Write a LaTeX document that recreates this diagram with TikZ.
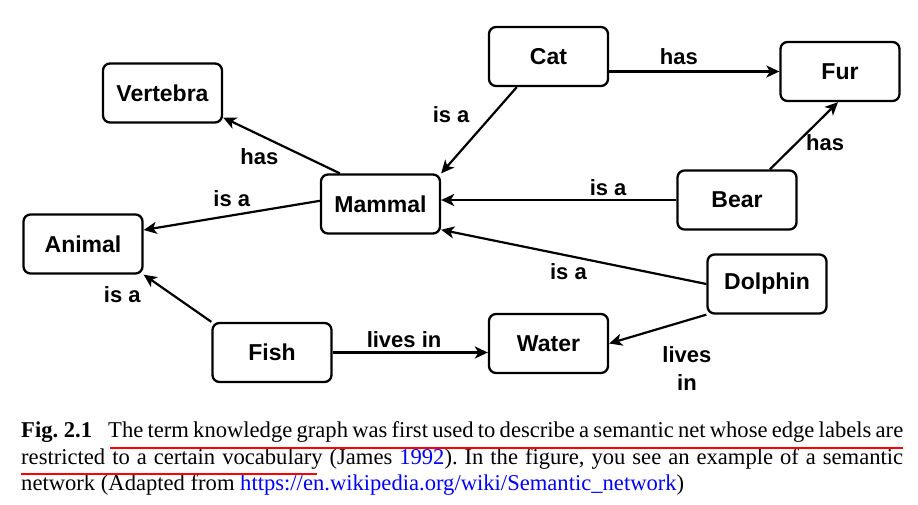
\documentclass[tikz,border=0pt]{standalone}
\usepackage{fontspec}
\setmainfont{Liberation Serif}
\newfontfamily\netfont{Liberation Sans}
\usetikzlibrary{arrows.meta}
\frenchspacing
\tikzset{
  concept/.style={draw, line width=2.3pt, rounded corners=7pt, minimum width=119pt, minimum height=59pt, inner sep=0pt, font=\netfont\bfseries\fontsize{23}{27}\selectfont},
  link/.style={line width=2.2pt, -{Stealth[length=13pt,width=12pt,inset=3.5pt]}},
  rel/.style={inner sep=2pt, font=\netfont\bfseries\fontsize{22}{28}\selectfont, align=center},
  capline/.style={anchor=base west, inner sep=0pt, font=\fontsize{22.6}{26}\selectfont},
  underline/.style={red, line width=2pt}
}

\begin{document}
\begin{tikzpicture}[x=1pt,y=-1pt]
    \useasboundingbox (0,0) rectangle (918,504);
    \node[concept] (vertebra) at (162.5,93) {Vertebra};
    \node[concept] (cat) at (548.5,56.5) {Cat};
    \node[concept] (fur) at (840,71.5) {Fur};
    \node[concept] (mammal) at (380.5,204) {Mammal};
    \node[concept] (bear) at (737,200) {Bear};
    \node[concept] (animal) at (83,244) {Animal};
    \node[concept] (dolphin) at (767,284) {Dolphin};
    \node[concept] (fish) at (272,352.5) {Fish};
    \node[concept] (water) at (548.5,343.5) {Water};

    \draw[link] (mammal.143) -- (vertebra.-22) node[rel, pos=0.5, below left] {has};
    \draw[link] (cat.-136) -- (mammal.north east) node[rel, pos=0.32, left=20pt] {is a};
    \draw[link] (cat.east |- fur.west) -- (fur.west) node[rel, pos=0.41, above=4pt] {has};
    \draw[link] (bear.43) -- ([xshift=-2pt]fur.south) node[rel, pos=0.4, right=6pt] {has};
    \draw[link] (bear.west) -- (bear.west -| mammal.east) node[rel, pos=0.29, above=1pt] {is a};
    \draw[link] (dolphin.west) -- (mammal.-23) node[rel, pos=0.52, below=5pt] {is a};
    \draw[link] (mammal.177) -- (animal.13) node[rel, pos=0.5, above=5.5pt] {is a};
    \draw[link] (fish.north west) -- (animal.south east) node[rel, pos=0.57, left=29pt] {is a};
    \draw[link] (fish.east) -- (fish.east -| water.west) node[rel, pos=0.46, above=2pt] {lives in};
    \draw[link] (dolphin.south west) -- (water.east) node[rel, pos=0.2, below=23pt] {lives\\in};

    \node[capline] (figno) at (21,437) {\textbf{Fig. 2.1}};
    \node[capline] (line1) at (108,437) {\makebox[795pt][s]{The term knowledge graph was first used to describe a semantic net whose edge labels are}};
    \node[capline] (line2) at (21,464) {\makebox[882pt][s]{restricted to a certain vocabulary (James \textcolor{blue}{1992}). In the figure, you see an example of a semantic}};
    \node[capline] (line3) at (21,490) {network (Adapted from \textcolor{blue}{https://en.wikipedia.org/wiki/Semantic\_network})};
    \draw[underline] (110,448) -- (903,448);
    \draw[underline] (21,474) -- (317,474);
\end{tikzpicture}
\end{document}
